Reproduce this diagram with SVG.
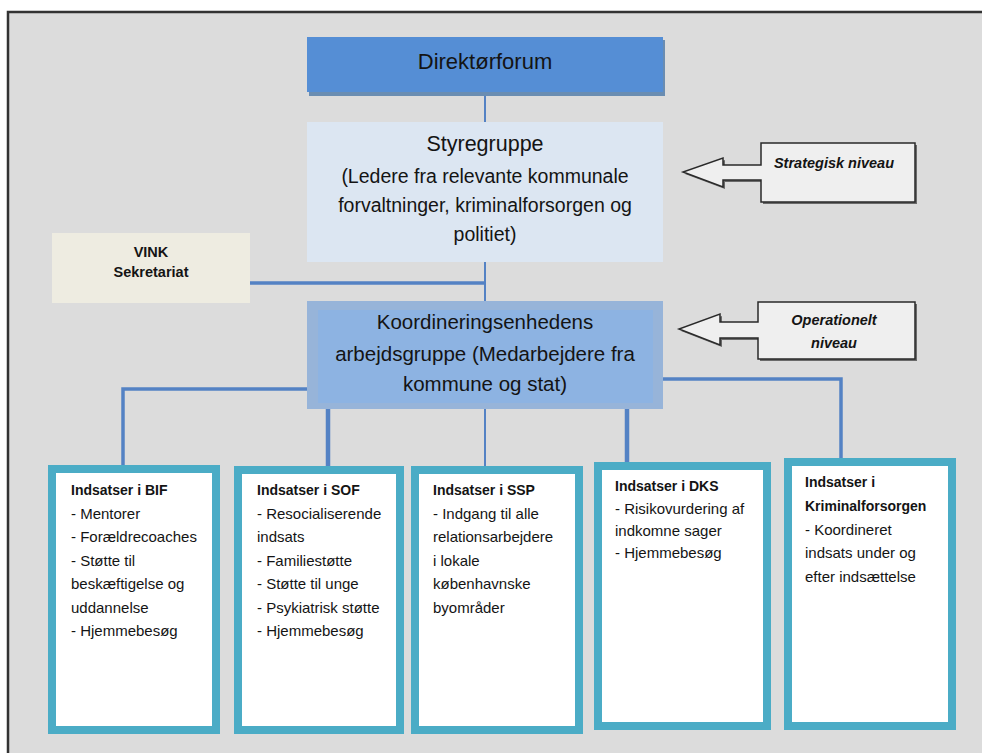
<svg xmlns="http://www.w3.org/2000/svg" width="982" height="753" viewBox="0 0 982 753">
<style>
.t{font-family:"Liberation Sans",Arial,sans-serif;fill:#141414}
.c{text-anchor:middle}
.body{font-size:15px}
.hd{font-size:14px;font-weight:bold}
.conn{stroke:#5482c4;fill:none}
.leaf{fill:#ffffff;stroke:#4bacc6;stroke-width:8}
.call{fill:#efefef;stroke:#2a2a2a;stroke-width:1.5;stroke-linejoin:miter}
.callsh{fill:#6a6a6a}
.ital{font-size:14.5px;font-weight:bold;font-style:italic}
</style>
<rect x="0" y="0" width="982" height="753" fill="#ffffff"/>
<rect x="8" y="12" width="980" height="745" fill="#dcdcdc"/>
<path d="M8 753 V12 H982" fill="none" stroke="#333333" stroke-width="2.5"/>

<g id="connectors">
<line class="conn" x1="485" y1="92" x2="485" y2="122" stroke-width="2"/>
<line class="conn" x1="485" y1="262" x2="485" y2="302" stroke-width="2"/>
<line class="conn" x1="250" y1="283" x2="485" y2="283" stroke-width="3.5"/>
<polyline class="conn" points="307,389 123,389 123,466" stroke-width="3.5"/>
<line class="conn" x1="328" y1="409" x2="328" y2="467" stroke-width="4.5"/>
<line class="conn" x1="485" y1="409" x2="485" y2="467" stroke-width="2"/>
<line class="conn" x1="627" y1="409" x2="627" y2="463" stroke-width="4.5"/>
<polyline class="conn" points="663,379 841,379 841,459" stroke-width="3.5"/>
</g>

<g id="direktorforum">
<rect x="309" y="40" width="356" height="56" fill="#6a8db2"/>
<rect x="307" y="37" width="356" height="55" fill="#558ed5"/>
<text class="t c" x="485" y="69" font-size="22">Direktørforum</text>
</g>

<g id="styregruppe">
<rect x="307" y="122" width="356" height="140" fill="#dce6f2"/>
<text class="t c" x="485" y="151" font-size="21.5">Styregruppe</text>
<text class="t c" x="485" y="183" font-size="19.5">(Ledere fra relevante kommunale</text>
<text class="t c" x="485" y="212" font-size="19.5">forvaltninger, kriminalforsorgen og</text>
<text class="t c" x="485" y="241" font-size="19.5">politiet)</text>
</g>

<g id="vink">
<rect x="52" y="233" width="198" height="70" fill="#eeece1"/>
<text class="t c" x="151" y="257" font-size="14.5" font-weight="bold">VINK</text>
<text class="t c" x="151" y="277" font-size="14.5" font-weight="bold">Sekretariat</text>
</g>

<g id="koordinering">
<rect x="307" y="301" width="356" height="108" fill="#97b4d9"/>
<rect x="318" y="310" width="335" height="93" fill="#8db3e2"/>
<text class="t c" x="485" y="329" font-size="20.5">Koordineringsenhedens</text>
<text class="t c" x="485" y="361" font-size="20.5">arbejdsgruppe (Medarbejdere fra</text>
<text class="t c" x="485" y="391" font-size="20.5">kommune og stat)</text>
</g>

<g id="strategisk">
<polygon class="callsh" transform="translate(2,2)" points="761,143 915,143 915,202 761,202 761,180 723,180 723,187 683,172 723,158 723,165 761,165"/>
<polygon class="call" points="761,143 915,143 915,202 761,202 761,180 723,180 723,187 683,172 723,158 723,165 761,165"/>
<text class="t c ital" x="834" y="168">Strategisk niveau</text>
</g>

<g id="operationelt">
<polygon class="callsh" transform="translate(2,2)" points="758,302 915,302 915,359 758,359 758,338 720,338 720,345 679,329 720,314 720,322 758,322"/>
<polygon class="call" points="758,302 915,302 915,359 758,359 758,338 720,338 720,345 679,329 720,314 720,322 758,322"/>
<text class="t c ital" x="834" y="325">Operationelt</text>
<text class="t c ital" x="834" y="348">niveau</text>
</g>

<g id="bif">
<rect class="leaf" x="52" y="469" width="164" height="261"/>
<text class="t hd" x="71" y="495">Indsatser i BIF</text>
<text class="t body" x="71" y="518.5">- Mentorer</text>
<text class="t body" x="71" y="542">- Forældrecoaches</text>
<text class="t body" x="71" y="565.5">- Støtte til</text>
<text class="t body" x="71" y="589">beskæftigelse og</text>
<text class="t body" x="71" y="612.5">uddannelse</text>
<text class="t body" x="71" y="636">- Hjemmebesøg</text>
</g>

<g id="sof">
<rect class="leaf" x="238" y="470" width="162" height="260"/>
<text class="t hd" x="257" y="495">Indsatser i SOF</text>
<text class="t body" x="257" y="518.5">- Resocialiserende</text>
<text class="t body" x="257" y="542">indsats</text>
<text class="t body" x="257" y="565.5">- Familiestøtte</text>
<text class="t body" x="257" y="589">- Støtte til unge</text>
<text class="t body" x="257" y="612.5">- Psykiatrisk støtte</text>
<text class="t body" x="257" y="636">- Hjemmebesøg</text>
</g>

<g id="ssp">
<rect class="leaf" x="415" y="470" width="164" height="260"/>
<text class="t hd" x="433" y="495">Indsatser i SSP</text>
<text class="t body" x="433" y="518.5">- Indgang til alle</text>
<text class="t body" x="433" y="542">relationsarbejdere</text>
<text class="t body" x="433" y="565.5">i lokale</text>
<text class="t body" x="433" y="589">københavnske</text>
<text class="t body" x="433" y="612.5">byområder</text>
</g>

<g id="dks">
<rect class="leaf" x="598" y="466" width="169" height="260"/>
<text class="t hd" x="615" y="491">Indsatser i DKS</text>
<text class="t body" x="615" y="513.5">- Risikovurdering af</text>
<text class="t body" x="615" y="536">indkomne sager</text>
<text class="t body" x="615" y="558">- Hjemmebesøg</text>
</g>

<g id="kriminalforsorgen">
<rect class="leaf" x="788" y="462" width="164" height="264"/>
<text class="t hd" x="805" y="487">Indsatser i</text>
<text class="t hd" x="805" y="511">Kriminalforsorgen</text>
<text class="t body" x="805" y="535">- Koordineret</text>
<text class="t body" x="805" y="558">indsats under og</text>
<text class="t body" x="805" y="582">efter indsættelse</text>
</g>
</svg>
